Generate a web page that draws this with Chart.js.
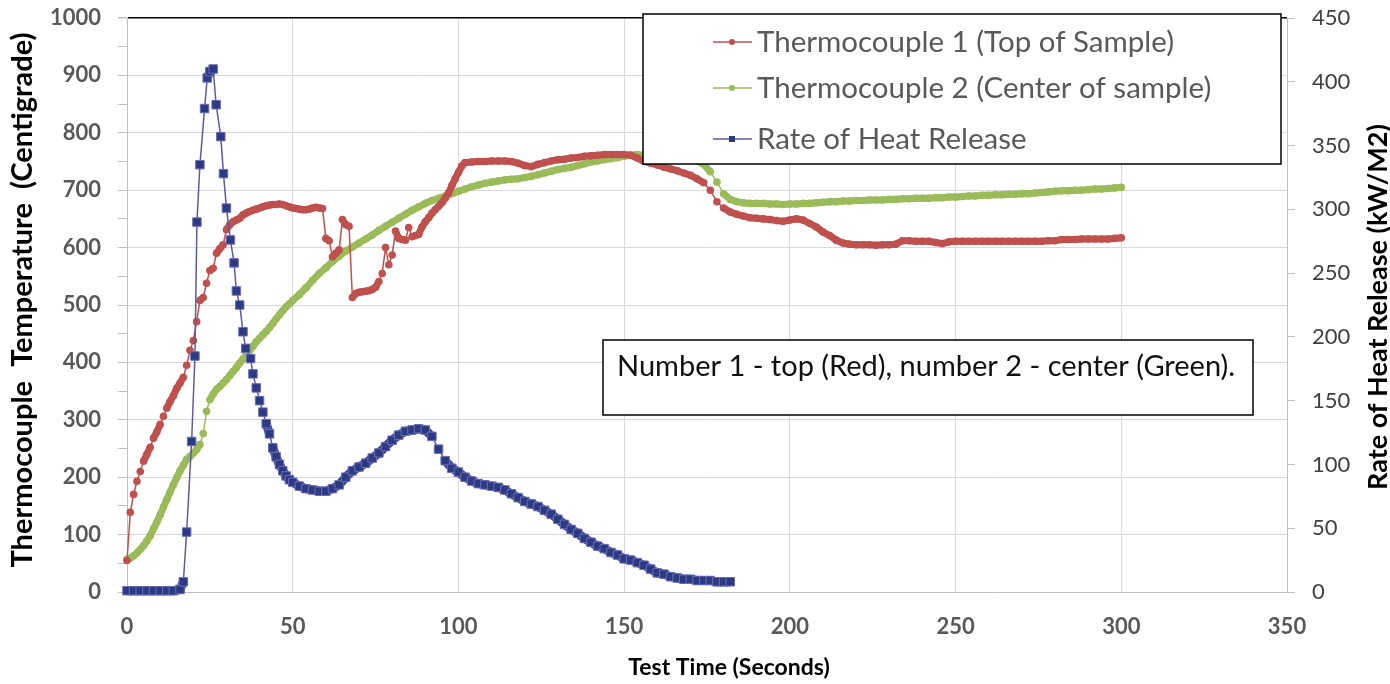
<!DOCTYPE html>
<html>
<head>
<meta charset="utf-8">
<title>Thermocouple temperature and rate of heat release</title>
<script src="https://cdn.jsdelivr.net/npm/chart.js@4"></script>
<style>
  html, body { margin: 0; padding: 0; background: #fff; }
  #chart { display: block; }
</style>
</head>
<body>
<canvas id="chart" width="1390" height="684"></canvas>
<script>
// Thermocouple 1 (top of sample)
const tc1Time = [
  0, 1, 2, 3, 4, 5, 6, 7, 8, 9,
  10, 11, 12, 13, 14, 15, 16, 17, 18, 19,
  20, 21, 22, 23, 24, 25, 26, 27, 28, 29,
  30, 31, 32, 33, 34, 35, 36, 37, 38, 39,
  40, 41, 42, 43, 44, 45, 46, 47, 48, 49,
  50, 51, 52, 53, 54, 55, 56, 57, 58, 59,
  60, 61, 62, 63, 64, 65, 66, 67, 68, 69,
  70, 71, 72, 73, 74, 75, 76, 77, 78, 79,
  80, 81, 82, 83, 84, 85, 86, 87, 88, 89,
  90, 91, 92, 93, 94, 95, 96, 97, 98, 99,
  100, 101, 102,
  104, 106, 108, 110, 112, 114, 116, 118, 120, 122,
  124, 126, 128, 130, 132, 134, 136, 138, 140, 142,
  144, 146, 148, 150, 152, 154, 156, 158, 160, 162,
  164, 166, 168, 170, 172, 174, 176, 178, 180, 182,
  184, 186, 188, 190, 192, 194, 196, 198, 200, 202,
  204, 206, 208, 210, 212, 214, 216, 218, 220, 222,
  224, 226, 228, 230, 232, 234, 236, 238, 240, 242,
  244, 246, 248, 250, 252, 254, 256, 258, 260, 262,
  264, 266, 268, 270, 272, 274, 276, 278, 280, 282,
  284, 286, 288, 290, 292, 294, 296, 298, 300
];
const tc1Temp = [
  55, 139, 170, 193, 210, 228, 240, 252, 268, 279,
  292, 306, 320, 332, 342, 355, 364, 374, 395, 421,
  438, 471, 508, 513, 538, 560, 564, 590, 598, 605,
  631, 640, 645, 648, 651, 657, 660, 663, 665, 667,
  669, 671, 673, 674, 675, 675, 676, 675, 673, 671,
  669, 668, 667, 666, 666, 667, 669, 670, 669, 668,
  616, 612, 584, 590, 596, 649, 640, 637, 513, 520,
  522, 523, 524, 525, 527, 531, 541, 555, 600, 570,
  587, 629, 616, 614, 613, 635, 619, 621, 623, 636,
  645, 652, 660, 666, 672, 678, 686, 695, 708, 720,
  731, 742, 748,
  749, 750, 750, 751, 751, 751, 750, 747, 743, 741,
  745, 748, 751, 753, 754, 756, 757, 759, 760, 761,
  762, 762, 762, 762, 761, 756, 750, 747, 744, 740,
  737, 734, 730, 726, 720, 713, 700, 680, 669, 662,
  658, 655, 652, 651, 650, 649, 647, 646, 648, 650,
  648, 642, 636, 627, 621, 613, 608, 606, 605, 605,
  605, 604, 605, 605, 606, 612, 612, 611, 611, 611,
  609, 607, 610, 611, 611, 611, 611, 611, 611, 611,
  611, 611, 611, 611, 611, 611, 611, 612, 612, 614,
  614, 614, 615, 615, 615, 615, 615, 616, 617
];

// Thermocouple 2 (center of sample)
const tc2Time = [
  0, 1, 2, 3, 4, 5, 6, 7, 8, 9,
  10, 11, 12, 13, 14, 15, 16, 17, 18, 19,
  20, 21, 22, 23, 24, 25, 26, 27, 28, 29,
  30, 31, 32, 33, 34, 35, 36, 37, 38, 39,
  40, 41, 42, 43, 44, 45, 46, 47, 48, 49,
  50,
  52, 54, 56, 58, 60, 62, 64, 66, 68, 70,
  72, 74, 76, 78, 80, 82, 84, 86, 88, 90,
  92, 94, 96, 98, 100, 102, 104, 106, 108, 110,
  112, 114, 116, 118, 120, 122, 124, 126, 128, 130,
  132, 134, 136, 138, 140, 142, 144, 146, 148, 150,
  152, 154, 156, 158, 160, 162, 164, 166, 168, 170,
  172, 174, 176, 178, 180, 182, 184, 186, 188, 190,
  192, 194, 196, 198, 200, 202, 204, 206, 208, 210,
  212, 214, 216, 218, 220, 222, 224, 226, 228, 230,
  232, 234, 236, 238, 240, 242, 244, 246, 248, 250,
  252, 254, 256, 258, 260, 262, 264, 266, 268, 270,
  272, 274, 276, 278, 280, 282, 284, 286, 288, 290,
  292, 294, 296, 298, 300
];
const tc2Temp = [
  57, 59, 63, 68, 74, 81, 89, 98, 110, 122,
  134, 148, 161, 174, 187, 199, 211, 221, 231, 236,
  242, 248, 257, 276, 315, 335, 345, 353, 358, 364,
  370, 377, 384, 391, 399, 406, 413, 421, 428, 436,
  442, 448, 454, 461, 468, 476, 483, 490, 497, 502,
  508,
  518, 530, 543, 555, 565, 576, 585, 594, 601, 608,
  615, 622, 630, 637, 644, 651, 658, 665, 671, 677,
  682, 686, 690, 694, 698, 702, 706, 709, 712, 714,
  716, 718, 719, 720, 722, 724, 727, 730, 733, 736,
  738, 740, 743, 746, 749, 751, 753, 755, 757, 759,
  761, 762, 761, 760, 760, 759, 758, 757, 756, 754,
  751, 745, 732, 714, 694, 684, 680, 678, 677, 677,
  677, 676, 676, 675, 676, 676, 677, 677, 678, 679,
  680, 680, 681, 681, 682, 682, 683, 683, 683, 684,
  684, 685, 685, 686, 686, 686, 687, 687, 688, 688,
  689, 690, 690, 691, 691, 692, 692, 693, 693, 694,
  694, 695, 696, 697, 698, 699, 699, 700, 700, 701,
  702, 702, 703, 704, 705
];

// Rate of heat release (kW/M2), right axis
const rhrTime = [
  0, 2, 4, 6, 8, 10, 12, 14, 16, 17,
  18, 19.5, 20.5, 21.1, 22, 23.4, 24.2, 25, 26, 26.9,
  28.3, 29.1, 30, 31.2, 32.3, 33, 34, 35, 35.8, 37.3,
  38, 39, 40, 41, 42, 43, 44, 45, 46, 47,
  48, 49, 50, 52, 54, 56, 58, 60, 62, 64,
  66, 68, 70, 72, 74, 76, 78, 80, 82, 84,
  86, 88, 90, 92, 94, 96, 98, 100, 102, 104,
  106, 108, 110, 112, 114, 116, 118, 120, 122, 124,
  126, 128, 130, 132, 134, 136, 138, 140, 142, 144,
  146, 148, 150, 152, 154, 156, 158, 160, 162, 164,
  166, 168, 170, 172, 174, 176, 178, 180, 182
];
const rhrValue = [
  1, 1, 1, 1, 1, 1, 1, 1, 2, 8,
  47, 118, 185, 290, 335, 379, 403, 408, 410, 382,
  357, 328, 301, 276, 258, 236, 225, 204, 191, 183,
  171, 160, 150, 141, 132, 124, 113, 106, 100, 95,
  91, 88, 86, 83, 81, 80, 79, 79, 81, 84,
  90, 95, 98, 101, 105, 109, 114, 119, 123, 126,
  127, 128, 127, 122, 112, 103, 97, 94, 90, 87,
  85, 84, 83, 82, 80, 77, 74, 71, 69, 67,
  64, 61, 57, 53, 49, 46, 42, 39, 36, 34,
  31, 29, 26, 25, 23, 21, 18, 15, 14, 12,
  11, 10, 10, 9, 9, 9, 8, 8, 8
];

const seriesNames = [
  'Thermocouple 1 (Top of Sample)',
  'Thermocouple 2 (Center of sample)',
  'Rate of Heat Release'
];
const xTitle = 'Test Time (Seconds)';
const yTitle = 'Thermocouple  Temperature  (Centigrade)';
const y1Title = 'Rate of Heat Release (kW/M2)';
const noteText = 'Number 1 - top (Red), number 2 - center (Green).';

const FONT = 'Lato, "Open Sans", sans-serif';
const RED = '#C0504D';
const GREEN = '#9BBB59';
const BLUE_LINE = '#5B5BA8';
const BLUE_FILL = '#2C3A82';
const BLUE_BAND = '#3D3F90';

function toPoints(xs, ys) {
  return xs.map((x, i) => ({ x: x, y: ys[i] }));
}

// closely packed markers in the original merge into a thick band
function segGap(c) {
  return Math.hypot(c.p1.x - c.p0.x, c.p1.y - c.p0.y);
}

// y axes: no extra room for half labels, the plot starts right at the top padding
function fixYAxis(width) {
  return (scale) => {
    scale.width = width;
    scale.paddingTop = 0;
    scale.paddingBottom = 0;
  };
}

// legend box, note box and axis titles drawn on top of the plot
const overlay = {
  id: 'overlay',
  afterDraw(chart) {
    const ctx = chart.ctx;
    ctx.save();

    // legend
    ctx.fillStyle = '#fff';
    ctx.fillRect(643, 14, 638, 150);
    ctx.strokeStyle = '#000';
    ctx.lineWidth = 1.5;
    ctx.strokeRect(643, 14, 638, 150);
    const rowY = [42, 88, 139];
    chart.data.datasets.forEach((ds, i) => {
      const y = rowY[i];
      ctx.strokeStyle = ds.borderColor;
      ctx.lineWidth = 1.5;
      ctx.beginPath();
      ctx.moveTo(713, y);
      ctx.lineTo(752, y);
      ctx.stroke();
      ctx.fillStyle = ds.pointBackgroundColor;
      if (ds.pointStyle === 'rect') {
        ctx.fillRect(729, y - 3, 6, 6);
      } else {
        ctx.beginPath();
        ctx.arc(732, y, 3, 0, Math.PI * 2);
        ctx.fill();
      }
      ctx.fillStyle = '#595959';
      ctx.font = '29.5px ' + FONT;
      ctx.textAlign = 'left';
      ctx.textBaseline = 'middle';
      ctx.fillText(ds.label, 757, y);
    });

    // note box
    ctx.fillStyle = '#fff';
    ctx.fillRect(603, 340, 650, 75);
    ctx.strokeStyle = '#000';
    ctx.lineWidth = 1.5;
    ctx.strokeRect(603, 340, 650, 75);
    ctx.fillStyle = '#111';
    ctx.font = '29px ' + FONT;
    ctx.textAlign = 'left';
    ctx.textBaseline = 'middle';
    ctx.fillText(noteText, 617, 367);

    // axis titles
    ctx.fillStyle = '#000';
    ctx.textAlign = 'center';
    ctx.textBaseline = 'middle';
    ctx.font = 'bold 23px ' + FONT;
    ctx.fillText(xTitle, 729, 668);

    ctx.save();
    ctx.translate(23, 300);
    ctx.rotate(-Math.PI / 2);
    ctx.font = 'bold 29px ' + FONT;
    ctx.fillText(yTitle, 0, 0);
    ctx.restore();

    ctx.save();
    ctx.translate(1378, 307);
    ctx.rotate(-Math.PI / 2);
    ctx.font = 'bold 27px ' + FONT;
    ctx.fillText(y1Title, 0, 0);
    ctx.restore();

    ctx.restore();
  }
};

const ctx = document.getElementById('chart');

new Chart(ctx, {
  type: 'line',
  data: {
    datasets: [
      {
        label: seriesNames[0],
        data: toPoints(tc1Time, tc1Temp),
        yAxisID: 'y',
        order: 1,
        borderColor: RED,
        borderWidth: 1.5,
        segment: { borderWidth: (c) => (segGap(c) < 8.5 ? 7 : 1.5) },
        pointBackgroundColor: RED,
        pointBorderColor: RED,
        pointBorderWidth: 0,
        pointRadius: 3.8,
        pointStyle: 'circle',
        tension: 0,
        clip: false
      },
      {
        label: seriesNames[1],
        data: toPoints(tc2Time, tc2Temp),
        yAxisID: 'y',
        order: 2,
        borderColor: GREEN,
        borderWidth: 1.5,
        segment: { borderWidth: (c) => (segGap(c) < 10.5 ? 7 : 1.5) },
        pointBackgroundColor: GREEN,
        pointBorderColor: GREEN,
        pointBorderWidth: 0,
        pointRadius: 3.8,
        pointStyle: 'circle',
        tension: 0,
        clip: false
      },
      {
        label: seriesNames[2],
        data: toPoints(rhrTime, rhrValue),
        yAxisID: 'y1',
        order: 0,
        borderColor: BLUE_LINE,
        borderWidth: 1.5,
        segment: {
          borderWidth: (c) => (segGap(c) < 11 ? 9 : 1.5),
          borderColor: (c) => (segGap(c) < 11 ? BLUE_BAND : BLUE_LINE)
        },
        pointBackgroundColor: BLUE_FILL,
        pointBorderColor: '#6C6CB8',
        pointBorderWidth: 1,
        pointRadius: 6,
        pointStyle: 'rect',
        tension: 0,
        clip: false
      }
    ]
  },
  options: {
    responsive: false,
    animation: false,
    devicePixelRatio: 1,
    layout: { padding: { top: 18, left: 0, right: 0, bottom: 0 } },
    plugins: {
      legend: { display: false },
      tooltip: { enabled: false }
    },
    scales: {
      x: {
        type: 'linear',
        min: 0,
        max: 350,
        ticks: {
          stepSize: 50,
          maxRotation: 0,
          padding: 22,
          color: '#595959',
          font: { family: FONT, size: 22, weight: 'bold' }
        },
        grid: { color: '#d9d9d9', drawTicks: false },
        border: { color: '#bfbfbf' },
        afterFit: (scale) => { scale.height = 92; }
      },
      y: {
        position: 'left',
        min: 0,
        max: 1000,
        ticks: {
          stepSize: 50,
          autoSkip: false,
          padding: 17,
          color: '#595959',
          font: { family: FONT, size: 22, weight: 'bold' },
          callback: (v) => (v % 100 === 0 ? v : '')
        },
        grid: {
          color: (c) => {
            if (c.tick.value === 1000) return '#000';
            return c.tick.value % 100 === 0 ? '#d9d9d9' : 'rgba(0,0,0,0)';
          },
          lineWidth: (c) => (c.tick.value === 1000 ? 1.5 : 1),
          tickColor: '#bfbfbf',
          tickLength: 9
        },
        border: { color: '#bfbfbf' },
        afterFit: fixYAxis(127)
      },
      y1: {
        position: 'right',
        min: 0,
        max: 450,
        ticks: {
          stepSize: 50,
          autoSkip: false,
          padding: 17,
          color: '#404040',
          font: { family: FONT, size: 22 }
        },
        grid: {
          drawOnChartArea: false,
          tickColor: '#bfbfbf',
          tickLength: 8
        },
        border: { color: '#bfbfbf' },
        afterFit: fixYAxis(103)
      }
    }
  },
  plugins: [overlay]
});
</script>
</body>
</html>
